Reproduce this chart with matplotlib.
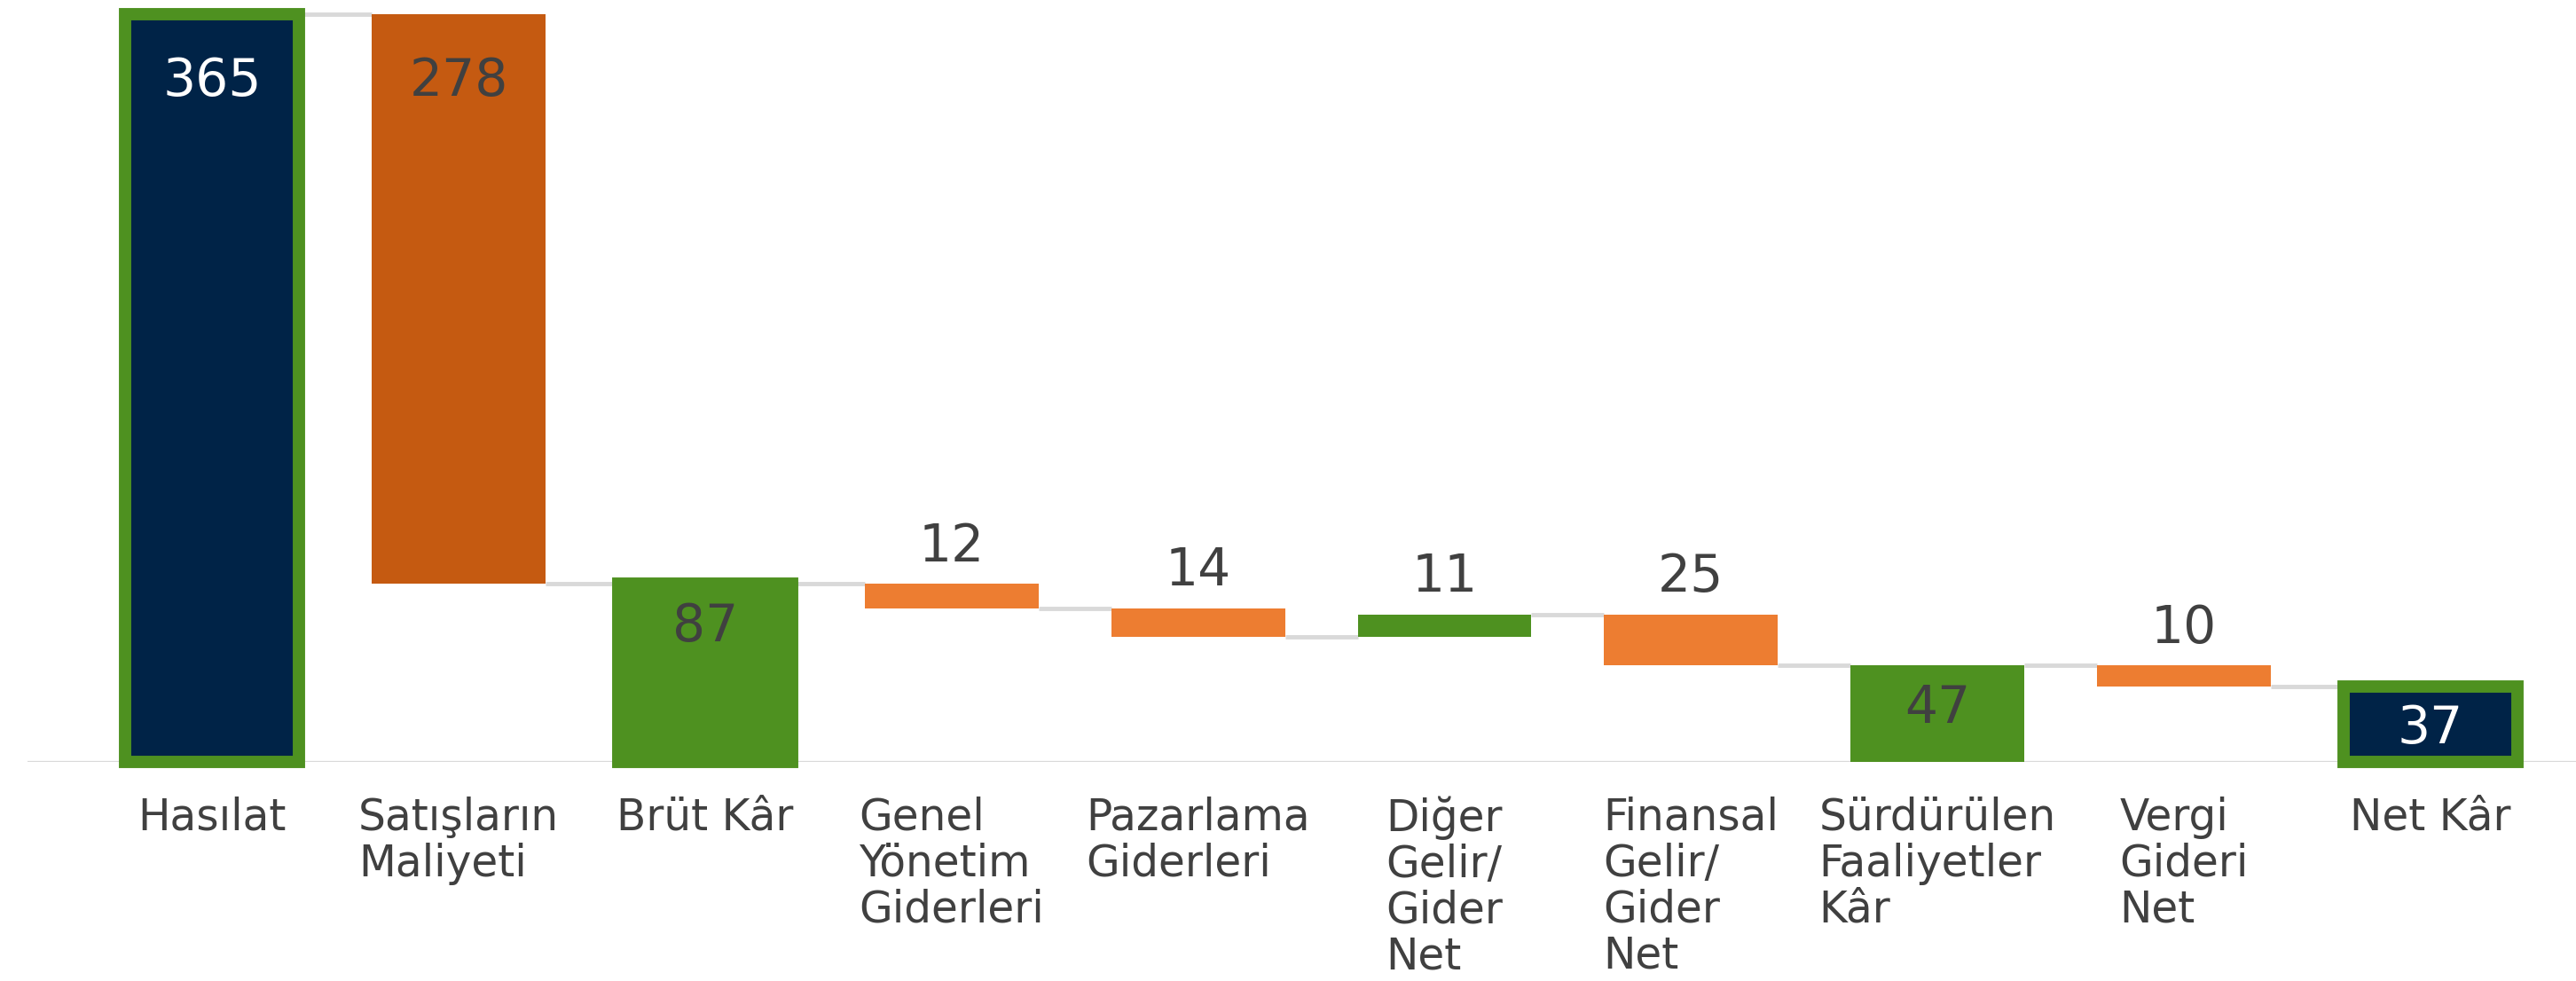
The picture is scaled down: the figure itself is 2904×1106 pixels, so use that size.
import matplotlib
matplotlib.use("Agg")
import matplotlib.pyplot as plt

# data
categories = ["Hasılat", "Satışların\nMaliyeti", "Brüt Kâr", "Genel\nYönetim\nGiderleri",
              "Pazarlama\nGiderleri", "Diğer\nGelir/\nGider\nNet", "Finansal\nGelir/\nGider\nNet",
              "Sürdürülen\nFaaliyetler\nKâr", "Vergi\nGideri\nNet", "Net Kâr"]
amounts = [365, 278, 87, 12, 14, 11, 25, 47, 10, 37]
kinds = ["total", "minus", "sub", "minus", "minus", "plus", "minus", "sub", "minus", "total"]

NAVY = "#002347"
GREEN = "#4E9120"
ORANGE = "#ED7D31"
DARK_ORANGE = "#C55A11"
GREY_TXT = "#404040"
CONNECT = "#D9D9D9"

plt.rcParams["font.family"] = ["DejaVu Sans"]

fig = plt.figure(figsize=(29.04, 11.06), dpi=100)
ax = fig.add_axes([31 / 2904, 247 / 1106, 1 - 31 / 2904, 1 - 247 / 1106])

width = 0.705
level = 0
bottoms, heights = [], []
for amt, kind in zip(amounts, kinds):
    if kind in ("total", "sub"):
        b = 0
        level = amt
    elif kind == "minus":
        b = level - amt
        level -= amt
    else:
        b = level
        level += amt
    bottoms.append(b)
    heights.append(amt)

ax.axhline(0, color=CONNECT, lw=1.6, zorder=1)

for i, kind in enumerate(kinds):
    if kind == "total":
        face, edge, lw = NAVY, GREEN, 10
    elif kind == "sub":
        face, edge, lw = GREEN, GREEN, 10 if i == 2 else 0
    elif kind == "plus":
        face, edge, lw = GREEN, GREEN, 0
    else:
        face = DARK_ORANGE if i == 1 else ORANGE
        edge, lw = face, 0
    ax.bar(i, heights[i], bottom=bottoms[i], width=width, color=face,
           edgecolor=edge, linewidth=lw, zorder=3, clip_on=False)

    top = bottoms[i] + heights[i]
    if kind in ("total", "sub") or i == 1:
        # value label inside the bar
        col = "white" if kind == "total" else GREY_TXT
        off = -75 if heights[i] > 200 else -48
        ax.annotate(str(amounts[i]), (i, top), xytext=(0, off * 0.72),
                    textcoords="offset points", ha="center", va="center",
                    fontsize=42, color=col, zorder=5)
    else:
        ax.annotate(str(amounts[i]), (i, top), xytext=(0, 42 * 0.72),
                    textcoords="offset points", ha="center", va="center",
                    fontsize=42, color=GREY_TXT, zorder=5)

# connectors
level = 0
for i, (amt, kind) in enumerate(zip(amounts, kinds)):
    if kind in ("total", "sub"):
        level = amt
    elif kind == "minus":
        level -= amt
    else:
        level += amt
    if i < len(amounts) - 1:
        ax.plot([i + width / 2, i + 1 - width / 2], [level, level],
                color=CONNECT, lw=3.5, solid_capstyle="butt", zorder=2)

ax.set_xlim(-0.749, 9.59)
ax.set_ylim(0, 372)
ax.set_xticks(range(len(categories)))
ax.set_xticklabels(categories, fontsize=35, color=GREY_TXT,
                   multialignment="left", linespacing=1.1)
ax.tick_params(axis="x", length=0, pad=28)
ax.set_yticks([])
for s in ax.spines.values():
    s.set_visible(False)

fig.savefig("out.png", dpi=100)
